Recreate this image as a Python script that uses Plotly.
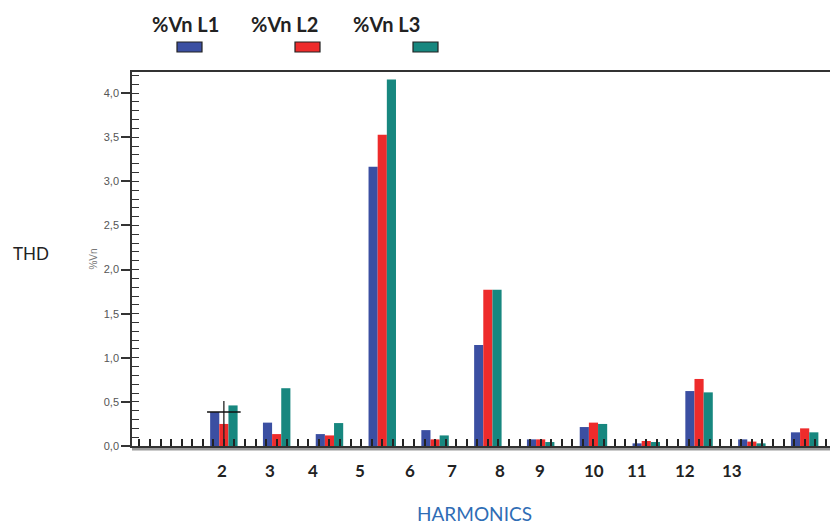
import plotly.graph_objects as go

# ---- data ----
groups = list(range(12))
series_names = ["%Vn L1", "%Vn L2", "%Vn L3"]
vn_l1 = [0.385, 0.265, 0.135, 3.165, 0.18, 1.145, 0.075, 0.215, 0.03, 0.623, 0.075, 0.155]
vn_l2 = [0.25, 0.135, 0.12, 3.53, 0.075, 1.77, 0.075, 0.265, 0.057, 0.76, 0.05, 0.2]
vn_l3 = [0.46, 0.655, 0.26, 4.155, 0.12, 1.77, 0.045, 0.25, 0.045, 0.608, 0.03, 0.155]
harmonic_labels = ["2", "3", "4", "5", "6", "7", "8", "9", "10", "11", "12", "13"]
cursor_group = 0
cursor_value = 0.385
cursor_top = 0.51

colors = ["#3b4fa2", "#ee2b2b", "#17877f"]

# ---- layout geometry (pixels) ----
W, H = 830, 524
L, R, T, B = 132, 0, 72, 78
PW, PH = W - L - R, H - T - B

def px(x):
    return (x - L) / PW

def py(y):
    return (H - B - y) / PH

fig = go.Figure()
for name, vals, c in zip(series_names, [vn_l1, vn_l2, vn_l3], colors):
    fig.add_trace(go.Bar(x=groups, y=vals, name=name, marker=dict(color=c, line=dict(width=0)),
                         showlegend=False))

# cursor marker
fig.add_trace(go.Scatter(
    x=[groups[cursor_group]], y=[cursor_value], mode="markers",
    marker=dict(symbol="line-ew", size=24, line=dict(width=1.5, color="#111")),
    error_y=dict(type="data", symmetric=False, array=[cursor_top - cursor_value],
                 arrayminus=[cursor_value], width=0, thickness=1.3, color="#222"),
    showlegend=False, hoverinfo="skip"))

# overlay axis for inside minor ticks on y
fig.add_trace(go.Scatter(x=[None], y=[None], yaxis="y2", showlegend=False))

fig.update_layout(
    width=W, height=H,
    margin=dict(l=L, r=R, t=T, b=B),
    paper_bgcolor="white", plot_bgcolor="white",
    barmode="group", bargap=0.48, bargroupgap=0,
    separators=",.",
    font=dict(family="Liberation Sans, Arial", color="#555"),
    xaxis=dict(range=[-1.74, 11.48], tick0=0, dtick=0.2, ticks="inside", ticklen=7,
               tickwidth=2, tickcolor="#222", showticklabels=False, showgrid=False,
               zeroline=False, showline=True, linecolor="#333", linewidth=2, mirror=True),
    yaxis=dict(range=[0, 4.24], tick0=0, dtick=0.5, tickformat=".1f", ticks="outside",
               ticklen=9, tickwidth=1.5, tickcolor="#333", showgrid=False, zeroline=False,
               showline=True, linecolor="#333", linewidth=1.5,
               tickfont=dict(size=11, color="#555"),
               title=dict(text="%Vn", font=dict(size=10, color="#777"), standoff=4)),
    yaxis2=dict(range=[0, 4.24], overlaying="y", side="left", tick0=0, dtick=0.1,
                ticks="inside", ticklen=7, tickwidth=1.3, tickcolor="#333",
                showticklabels=False, showgrid=False, zeroline=False, showline=False),
)

# gray band under baseline
fig.add_shape(type="line", xref="paper", yref="paper", x0=0, x1=1, y0=py(449), y1=py(449),
              line=dict(color="#9a9a9a", width=3), layer="below")

ann = []
# harmonic labels
label_px = [222, 270, 313, 360, 410, 452, 500, 540, 594, 637, 685, 732]
for lab, xpix in zip(harmonic_labels, label_px):
    ann.append(dict(x=px(xpix), y=py(470), xref="paper", yref="paper", text=f"<b>{lab}</b>",
                    showarrow=False, font=dict(family="Lato", size=17, color="#222"),
                    xanchor="center", yanchor="middle"))
# legend
leg_text_px = [185, 284, 386]
leg_sw_px = [177, 295, 413]
for name, c, tx, sx in zip(series_names, colors, leg_text_px, leg_sw_px):
    ann.append(dict(x=px(tx), y=py(24), xref="paper", yref="paper", text=f"<b>{name}</b>",
                    showarrow=False, font=dict(family="Lato", size=20, color="#222"),
                    xanchor="center", yanchor="middle"))
    fig.add_shape(type="rect", xref="paper", yref="paper", x0=px(sx), x1=px(sx + 25),
                  y0=py(52), y1=py(42), fillcolor=c, line=dict(color="#222", width=1.2))
ann.append(dict(x=px(31), y=py(253), xref="paper", yref="paper", text="THD", showarrow=False,
                font=dict(family="Lato", size=17, color="#222"), xanchor="center", yanchor="middle"))
ann.append(dict(x=px(474), y=py(513), xref="paper", yref="paper", text="HARMONICS", showarrow=False,
                font=dict(family="Lato", size=19, color="#2f6db5"), xanchor="center", yanchor="middle"))
fig.update_layout(annotations=ann)

fig.write_html("out.html", config={"displayModeBar": False},
               post_script="document.body.style.margin='0';document.body.style.padding='0';"
                           "document.body.style.overflow='hidden';")
